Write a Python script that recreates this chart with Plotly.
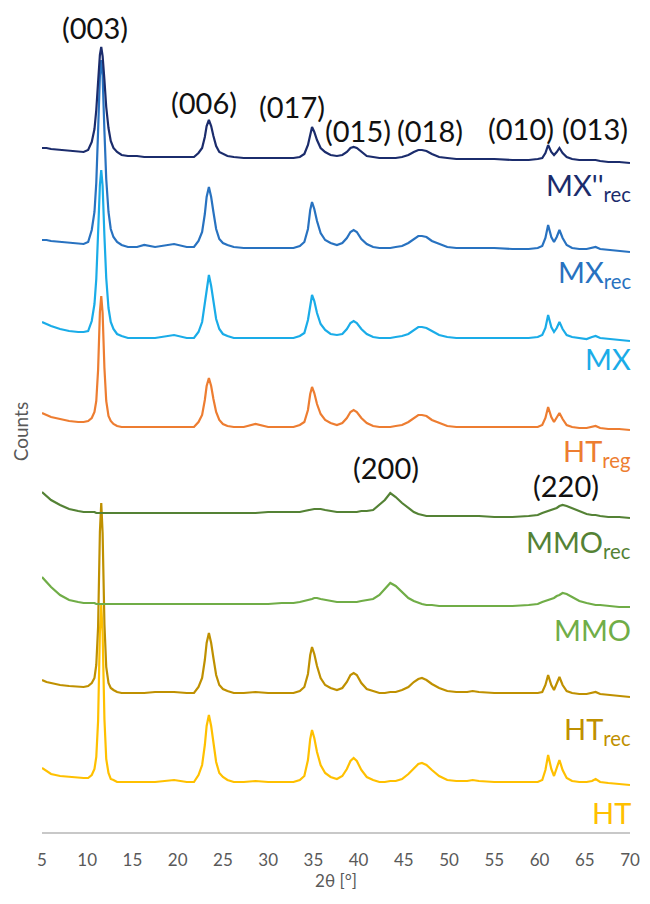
import plotly.graph_objects as go

# 2-theta sampling positions (degrees), denser across the reflections
two_theta = [
    5, 5.5, 6, 7, 8, 9, 9.6, 10.1,
    10.5, 10.8, 11.0, 11.2, 11.4, 11.55, 11.7, 11.9, 12.1, 12.35, 12.6, 12.9, 13.3, 13.8,
    14.5, 15.5, 16.3, 17.5, 19.6, 21, 21.8,
    22.3, 22.7, 23.0, 23.2, 23.45, 23.7, 23.95, 24.25, 24.6, 25.0, 25.5,
    26.2, 27.3, 28.6, 30.0, 31.5, 32.8,
    33.5, 34.0, 34.4, 34.65, 34.85, 35.1, 35.4, 35.8, 36.3, 36.9, 37.6,
    38.2, 38.7, 39.1, 39.45, 39.8, 40.3, 40.9, 41.6,
    42.3, 42.9, 43.5, 44.1, 44.8, 45.5, 46.1, 46.6, 47.0, 47.5, 48.1, 48.9, 49.8,
    50.8, 52.0, 52.6, 53.3, 55.0, 57.0, 58.8, 59.8,
    60.3, 60.65, 60.95, 61.3, 61.6, 61.9, 62.2, 62.55, 63.0, 63.6, 64.4, 65.2,
    65.8, 66.2, 66.7, 67.6, 68.8, 70.0,
]

# Diffracted intensity (a.u.) of each sample
mx2_rec = [
    15, 15, 14, 13, 12, 11, 11, 13,
    21, 34, 53, 81, 108, 116, 107, 83, 56, 35, 22, 15, 11, 8,
    7, 7, 6, 6, 6, 6, 6,
    10, 15, 26, 37, 43, 37, 27, 17, 11, 9, 7,
    6, 5, 5, 5, 5, 5,
    6, 9, 18, 30, 36, 31, 23, 15, 11, 8, 7,
    8, 11, 15, 16, 15, 11, 7, 6,
    5, 5, 5, 5, 6, 8, 11, 13, 13, 12, 9, 6, 5,
    4, 4, 4, 4, 4, 3, 3, 4,
    5, 10, 18, 11, 8, 11, 15, 10, 6, 4, 3, 3, 3, 3, 2, 1, 1, 0,
]
mx_rec = [
    12, 12, 11, 10, 9, 8, 8, 10,
    22, 40, 69, 121, 176, 192, 176, 121, 73, 40, 23, 15, 10, 7,
    5, 5, 7, 5, 8, 5, 5,
    11, 20, 38, 55, 65, 55, 40, 23, 13, 9, 7,
    5, 4, 4, 4, 4, 4,
    6, 10, 23, 42, 50, 43, 31, 19, 12, 9, 7,
    9, 14, 20, 22, 20, 13, 8, 5,
    4, 4, 4, 5, 6, 9, 13, 16, 16, 15, 11, 8, 5,
    4, 4, 4, 4, 4, 3, 3, 4,
    6, 14, 27, 15, 10, 15, 22, 14, 7, 4, 3, 3, 4, 5, 3, 2, 1, 0,
]
mx = [
    19, 17, 15, 12, 10, 9, 9, 10,
    20, 37, 62, 108, 156, 171, 155, 105, 63, 33, 19, 12, 7, 5,
    3, 3, 3, 3, 6, 3, 3,
    9, 19, 38, 55, 66, 55, 40, 22, 12, 7, 5,
    3, 3, 3, 3, 3, 3,
    5, 8, 21, 38, 46, 40, 28, 17, 11, 7, 6,
    7, 12, 18, 20, 18, 12, 7, 4,
    3, 3, 3, 4, 5, 7, 11, 14, 14, 13, 10, 6, 4,
    3, 3, 3, 3, 3, 3, 3, 4,
    6, 13, 26, 14, 9, 13, 19, 12, 6, 4, 3, 2, 4, 5, 3, 2, 1, 0,
]
ht_reg = [
    17, 15, 13, 11, 9, 8, 8, 9,
    12, 18, 29, 60, 118, 134, 117, 62, 29, 14, 9, 6, 4, 3,
    3, 3, 3, 3, 3, 3, 3,
    8, 15, 30, 44, 52, 44, 31, 18, 10, 6, 4,
    3, 3, 6, 3, 3, 3,
    5, 8, 20, 36, 43, 37, 26, 16, 10, 7, 5,
    7, 12, 18, 20, 18, 12, 7, 4,
    3, 3, 3, 4, 5, 8, 12, 15, 15, 14, 10, 7, 4,
    3, 3, 3, 3, 3, 3, 3, 3,
    5, 12, 23, 13, 8, 12, 17, 11, 5, 3, 2, 2, 3, 4, 2, 1, 1, 0,
]
mmo_rec = [
    26, 22, 18, 13, 9, 7, 6, 6,
    6, 6, 5, 5, 5, 5, 5, 5, 5, 5, 5, 5, 5, 5,
    5, 5, 5, 5, 5, 5, 5,
    5, 5, 5, 5, 5, 5, 5, 5, 5, 5, 5,
    5, 5, 5, 6, 6, 6,
    6, 7, 8, 8, 9, 9, 9, 9, 8, 7, 6,
    6, 6, 6, 6, 6, 7, 7, 8,
    13, 18, 25, 21, 15, 10, 6, 4, 3, 2, 2, 2, 2,
    2, 2, 2, 2, 1, 1, 2, 3,
    5, 6, 7, 8, 9, 10, 12, 13, 12, 10, 7, 4, 3, 3, 2, 1, 1, 0,
]
mmo = [
    30, 25, 20, 12, 7, 5, 4, 4,
    4, 4, 3, 3, 3, 3, 3, 3, 3, 3, 3, 3, 3, 3,
    3, 3, 3, 3, 3, 3, 3,
    3, 3, 3, 3, 3, 3, 3, 3, 3, 3, 3,
    3, 3, 3, 3, 4, 4,
    5, 6, 7, 8, 8, 9, 9, 8, 7, 6, 5,
    5, 5, 5, 5, 5, 6, 7, 8,
    12, 18, 24, 21, 15, 9, 6, 4, 3, 2, 2, 1, 1,
    1, 1, 1, 1, 1, 1, 2, 3,
    5, 6, 7, 8, 9, 11, 12, 14, 13, 10, 6, 4, 3, 2, 2, 1, 0, 0,
]
ht_rec = [
    17, 15, 14, 12, 11, 10, 10, 11,
    14, 19, 32, 70, 165, 194, 164, 73, 30, 14, 9, 7, 5, 4,
    4, 4, 4, 5, 5, 4, 4,
    10, 19, 37, 54, 64, 54, 39, 22, 12, 8, 6,
    4, 4, 5, 4, 4, 4,
    6, 10, 23, 42, 50, 43, 31, 19, 12, 9, 7,
    9, 15, 22, 24, 22, 14, 8, 6,
    4, 4, 5, 5, 7, 10, 15, 18, 19, 17, 13, 9, 6,
    5, 5, 6, 5, 4, 4, 4, 4,
    5, 12, 22, 12, 7, 13, 20, 12, 6, 4, 3, 3, 4, 5, 3, 2, 1, 0,
]
ht = [
    17, 14, 11, 9, 8, 7, 7, 7,
    10, 16, 28, 64, 153, 180, 152, 66, 26, 12, 6, 5, 3, 3,
    3, 3, 3, 3, 5, 3, 3,
    10, 20, 40, 59, 70, 59, 42, 23, 12, 8, 5,
    3, 3, 4, 3, 3, 3,
    5, 9, 25, 46, 55, 47, 33, 20, 12, 8, 6,
    9, 16, 24, 27, 24, 15, 8, 5,
    3, 3, 4, 4, 6, 11, 17, 21, 22, 20, 15, 9, 5,
    4, 4, 5, 4, 3, 3, 3, 3,
    5, 15, 30, 16, 9, 16, 25, 15, 7, 4, 3, 3, 4, 6, 3, 2, 1, 0,
]

# Stacking order (bottom to top), vertical shifts, colours, label drop below each trace
names = ["HT", "HT<sub>rec</sub>", "MMO", "MMO<sub>rec</sub>",
         "HT<sub>reg</sub>", "MX", "MX<sub>rec</sub>", "MX''<sub>rec</sub>"]
patterns = [ht, ht_rec, mmo, mmo_rec, ht_reg, mx, mx_rec, mx2_rec]
offsets = [47, 135, 225, 314, 402, 491, 580, 669]
colors = ["#FFC000", "#BF9000", "#70AD47", "#548235",
          "#ED7D31", "#1AACE8", "#2872C0", "#1B2C6C"]
label_drop = [27, 33, 22, 25, 22, 17, 21, 23]

# Reflection labels: text, 2-theta position, height
hkl_text = ["(003)", "(006)", "(017)", "(015)", "(018)", "(010)", "(013)", "(200)", "(220)"]
hkl_x = [10.9, 22.9, 32.6, 39.9, 47.9, 58.0, 66.1, 43.0, 62.9]
hkl_y = [805, 730, 726, 702, 702, 704, 704, 365, 347]

for p in patterns:
    assert len(p) == len(two_theta)

FONT = "Lato"

fig = go.Figure()
for name, p, off, col in zip(names, patterns, offsets, colors):
    fig.add_trace(go.Scatter(
        x=two_theta, y=[v + off for v in p], mode="lines", name=name,
        line=dict(color=col, width=2.2), showlegend=False, hoverinfo="skip",
    ))

annotations = []
for t, xv, yv in zip(hkl_text, hkl_x, hkl_y):
    annotations.append(dict(x=xv, y=yv, xref="x", yref="y", text=t, showarrow=False,
                            font=dict(family=FONT, size=29, color="#111111"),
                            xanchor="center", yanchor="middle"))
for name, off, col, drop in zip(names, offsets, colors, label_drop):
    annotations.append(dict(x=70, y=off - drop, xref="x", yref="y", text=name,
                            xshift=3, showarrow=False,
                            font=dict(family=FONT, size=29, color=col),
                            xanchor="right", yanchor="middle"))
annotations.append(dict(x=-0.037, y=0.4866, xref="paper", yref="paper", text="Counts",
                        textangle=-90, showarrow=False,
                        font=dict(family=FONT, size=19, color="#595959"),
                        xanchor="center", yanchor="middle"))

fig.update_layout(
    width=650, height=904,
    margin=dict(l=42, r=15, t=10, b=72),
    paper_bgcolor="white", plot_bgcolor="white",
    font=dict(family=FONT, color="#595959"),
    annotations=annotations,
    xaxis=dict(range=[5, 70], tickmode="array", tickvals=list(range(5, 71, 5)),
               showgrid=False, zeroline=False, showline=True, linecolor="#C8C8C8",
               linewidth=1.5, ticks="", ticklabelstandoff=12,
               tickfont=dict(family=FONT, size=17, color="#595959"),
               title=dict(text="2θ [°]", standoff=5,
                          font=dict(family=FONT, size=17, color="#595959"))),
    yaxis=dict(range=[0, 822], visible=False),
)

fig.write_html("out.html")
